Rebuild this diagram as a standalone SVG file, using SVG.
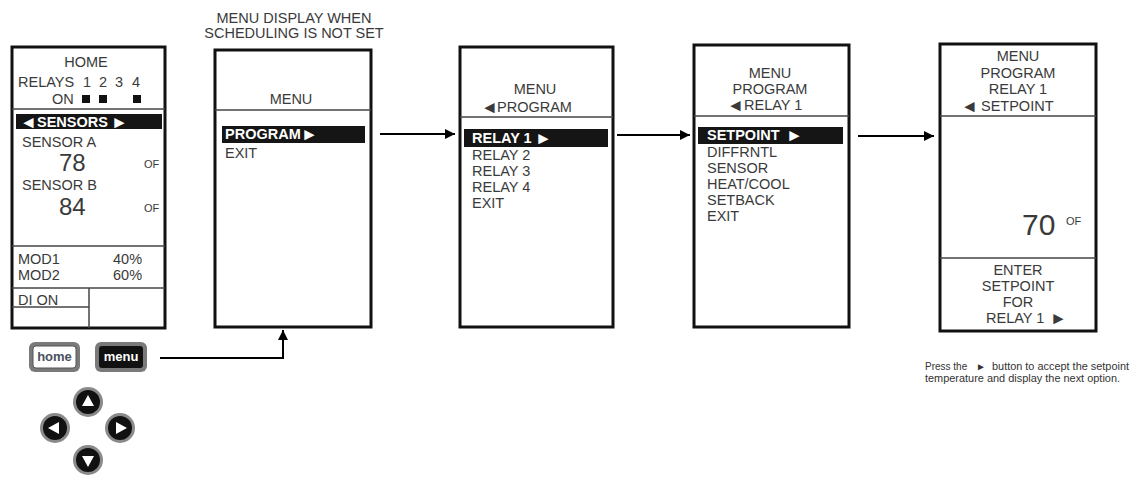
<svg xmlns="http://www.w3.org/2000/svg" width="1135" height="477" viewBox="0 0 1135 477">
<style>
text{font-family:"Liberation Sans",Arial,sans-serif;font-size:14.5px;fill:#3a3a3a}
.c{text-anchor:middle}
.hl{fill:#fff;font-weight:bold}
.tri{font-size:17px}
.panel{fill:#fff;stroke:#111;stroke-width:3}
.div{stroke:#444;stroke-width:1.5;fill:none}
.bar{fill:#151515}
.big{font-size:24px}
.huge{font-size:30px}
.deg{font-size:11px}
.btn{font-size:13px}
.home{fill:#4a5060;font-weight:bold}
.conn{stroke:#000;stroke-width:2;fill:none}
.note{font-size:10px;fill:#333}
.ntri{font-size:10px;fill:#333}
</style>
<defs>
<marker id="ah" viewBox="0 0 10 10" refX="10" refY="5" markerWidth="10" markerHeight="10" markerUnits="userSpaceOnUse" orient="auto">
<path d="M0,0 L10,5 L0,10 z" fill="#000"/>
</marker>
</defs>
<rect width="1135" height="477" fill="#fff"/>

<g id="panel-home">
<rect class="panel" x="12" y="47" width="153" height="281"/>
<text class="c" x="86" y="67">HOME</text>
<text y="87"><tspan x="18">RELAYS</tspan><tspan x="83">1</tspan><tspan x="99">2</tspan><tspan x="115">3</tspan><tspan x="132">4</tspan></text>
<text x="52" y="104">ON</text>
<rect x="82" y="95" width="8" height="8" fill="#111"/>
<rect x="99" y="95" width="8" height="8" fill="#111"/>
<rect x="133" y="95" width="8" height="8" fill="#111"/>
<line class="div" x1="12" y1="109" x2="165" y2="109"/>
<rect class="bar" x="16" y="114" width="146" height="15"/>
<text class="hl" y="127"><tspan class="tri" x="20" dy="1">◄</tspan><tspan x="37" dy="-1">SENSORS</tspan><tspan class="tri" x="111" dy="1">►</tspan></text>
<text x="22" y="147">SENSOR A</text>
<text class="big" x="59" y="171">78</text>
<text class="deg" x="144" y="168">OF</text>
<text x="22" y="190">SENSOR B</text>
<text class="big" x="59" y="215">84</text>
<text class="deg" x="144" y="212">OF</text>
<line class="div" x1="12" y1="246" x2="165" y2="246"/>
<text x="18" y="264">MOD1</text>
<text x="113" y="264">40%</text>
<text x="18" y="280">MOD2</text>
<text x="113" y="280">60%</text>
<line class="div" x1="12" y1="288" x2="165" y2="288"/>
<text x="18" y="305">DI ON</text>
<line class="div" x1="12" y1="307" x2="89" y2="307"/>
<line class="div" x1="89" y1="288" x2="89" y2="328"/>
</g>

<g id="buttons">
<g id="btn-home">
<rect x="29" y="342" width="51" height="30" rx="6" fill="#7a7a7a"/>
<rect x="33" y="346" width="43" height="22" rx="3" fill="#fff" stroke="#555" stroke-width="1"/>
<text class="c btn home" x="54.5" y="361">home</text>
</g>
<g id="btn-menu">
<rect x="95" y="342" width="52" height="30" rx="6" fill="#7a7a7a"/>
<rect x="99" y="346" width="44" height="22" rx="3" fill="#111"/>
<text class="c hl btn" x="121" y="361">menu</text>
</g>
</g>

<g id="nav">
<g id="nav-up">
<circle cx="88" cy="402" r="15" fill="#8a8a8a"/>
<circle cx="88" cy="402" r="12" fill="#111"/>
<path d="M88,395 L94,406 L82,406 z" fill="#fff"/>
</g>
<g id="nav-left">
<circle cx="55" cy="428" r="15" fill="#8a8a8a"/>
<circle cx="55" cy="428" r="12" fill="#111"/>
<path d="M48,428 L59,422 L59,434 z" fill="#fff"/>
</g>
<g id="nav-right">
<circle cx="120" cy="428" r="15" fill="#8a8a8a"/>
<circle cx="120" cy="428" r="12" fill="#111"/>
<path d="M127,428 L116,422 L116,434 z" fill="#fff"/>
</g>
<g id="nav-down">
<circle cx="88" cy="460" r="15" fill="#8a8a8a"/>
<circle cx="88" cy="460" r="12" fill="#111"/>
<path d="M88,467 L94,456 L82,456 z" fill="#fff"/>
</g>
</g>

<g id="panel-menu">
<text class="c" x="294" y="23">MENU DISPLAY WHEN</text>
<text class="c" x="294" y="38">SCHEDULING IS NOT SET</text>
<rect class="panel" x="215" y="50" width="156" height="277"/>
<text class="c" x="291" y="104">MENU</text>
<line class="div" x1="215" y1="110" x2="371" y2="110"/>
<rect class="bar" x="222" y="126" width="143" height="17"/>
<text class="hl" y="139"><tspan x="225">PROGRAM</tspan><tspan class="tri" x="301" dy="1">►</tspan></text>
<text x="225" y="158">EXIT</text>
</g>

<g id="panel-program">
<rect class="panel" x="460" y="47" width="153" height="280"/>
<text class="c" x="535" y="94">MENU</text>
<text y="112"><tspan class="tri" x="481" dy="1">◄</tspan><tspan x="497" dy="-1">PROGRAM</tspan></text>
<line class="div" x1="460" y1="117" x2="613" y2="117"/>
<rect class="bar" x="464" y="129" width="144" height="18"/>
<text class="hl" y="143"><tspan x="472">RELAY 1</tspan><tspan class="tri" x="535" dy="1">►</tspan></text>
<text x="472" y="160">RELAY 2</text>
<text x="472" y="176">RELAY 3</text>
<text x="472" y="192">RELAY 4</text>
<text x="472" y="208">EXIT</text>
</g>

<g id="panel-relay">
<rect class="panel" x="694" y="45" width="155" height="282"/>
<text class="c" x="770" y="78">MENU</text>
<text class="c" x="770" y="94">PROGRAM</text>
<text class="tri" x="727" y="111">◄</text>
<text x="744" y="110">RELAY 1</text>
<line class="div" x1="694" y1="116" x2="849" y2="116"/>
<rect class="bar" x="698" y="127" width="145" height="17"/>
<text class="hl" y="140"><tspan x="707">SETPOINT</tspan><tspan class="tri" x="786" dy="1">►</tspan></text>
<text x="707" y="157">DIFFRNTL</text>
<text x="707" y="173">SENSOR</text>
<text x="707" y="189">HEAT/COOL</text>
<text x="707" y="205">SETBACK</text>
<text x="707" y="221">EXIT</text>
</g>

<g id="panel-setpoint">
<rect class="panel" x="940" y="44" width="156" height="287"/>
<text class="c" x="1018" y="61">MENU</text>
<text class="c" x="1018" y="78">PROGRAM</text>
<text class="c" x="1018" y="94">RELAY 1</text>
<text y="111"><tspan class="tri" x="961" dy="1">◄</tspan><tspan x="981" dy="-1">SETPOINT</tspan></text>
<line class="div" x1="940" y1="116" x2="1096" y2="116"/>
<text class="huge" x="1022" y="235">70</text>
<text class="deg" x="1066" y="225">OF</text>
<line class="div" x1="940" y1="258" x2="1096" y2="258"/>
<text class="c" x="1018" y="275">ENTER</text>
<text class="c" x="1018" y="291">SETPOINT</text>
<text class="c" x="1018" y="307">FOR</text>
<text y="323"><tspan x="986">RELAY 1</tspan><tspan class="tri" x="1050" dy="1">►</tspan></text>
</g>

<g id="note">
<text class="note" x="925" y="370">Press the</text>
<text class="ntri" x="976" y="370">►</text>
<text class="note" x="992" y="370" textLength="137" lengthAdjust="spacingAndGlyphs">button to accept the setpoint</text>
<text class="note" x="925" y="382" textLength="195" lengthAdjust="spacingAndGlyphs">temperature and display the next option.</text>
</g>

<g id="connectors">
<line class="conn" x1="380" y1="134" x2="455" y2="134" marker-end="url(#ah)"/>
<line class="conn" x1="617" y1="135" x2="690" y2="135" marker-end="url(#ah)"/>
<line class="conn" x1="858" y1="136" x2="934" y2="136" marker-end="url(#ah)"/>
<path class="conn" d="M160,358 H283 V330" marker-end="url(#ah)"/>
</g>
</svg>
